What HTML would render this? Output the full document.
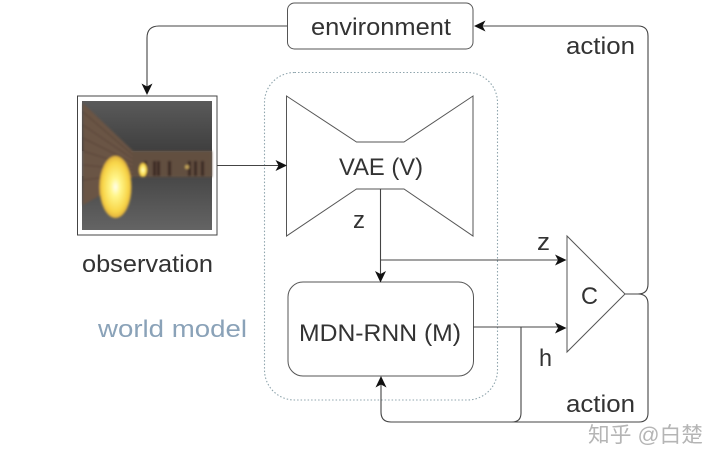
<!DOCTYPE html>
<html>
<head>
<meta charset="utf-8">
<style>
html,body{margin:0;padding:0;background:#fff}
svg{display:block}
text{font-family:"Liberation Sans","Noto Sans CJK SC",sans-serif;fill:#333}
</style>
</head>
<body>
<svg width="720" height="463" viewBox="0 0 720 463" xmlns="http://www.w3.org/2000/svg">
<defs>
<linearGradient id="ceil" x1="0" y1="0" x2="0" y2="1"><stop offset="0" stop-color="#5a5a5a"/><stop offset="1" stop-color="#3f3f3f"/></linearGradient>
<linearGradient id="floor" x1="0" y1="0" x2="0" y2="1"><stop offset="0" stop-color="#474747"/><stop offset="1" stop-color="#646464"/></linearGradient>
<radialGradient id="fire"><stop offset="0" stop-color="#fffef0"/><stop offset=".3" stop-color="#fff68a"/><stop offset=".8" stop-color="#f8d548"/><stop offset="1" stop-color="#e0b03c"/></radialGradient>
<filter id="b"><feGaussianBlur stdDeviation="1"/></filter>
</defs>

<!-- observation -->
<rect x="77.500" y="96" width="139.500" height="139" fill="#fff" stroke="#444" stroke-width="1"/>
<g>
<rect x="82" y="101" width="130" height="129" fill="#5e5e5e"/>
<rect x="82" y="101" width="130" height="50" fill="url(#ceil)"/>
<rect x="82" y="176" width="130" height="54" fill="url(#floor)"/>
<g filter="url(#b)">
<polygon points="132,151 212,151 212,177 132,177" fill="#62503f"/>
<polygon points="83,103 133,151 133,177 83,205" fill="#6a5444"/>
<g stroke="#58453a" stroke-width="1">
<line x1="83" y1="112" x2="133" y2="155"/><line x1="83" y1="125" x2="133" y2="159"/><line x1="83" y1="138" x2="133" y2="163"/><line x1="83" y1="151" x2="133" y2="167"/><line x1="83" y1="165" x2="133" y2="170"/><line x1="83" y1="180" x2="133" y2="174"/>
</g>
<g fill="#3a2620">
<rect x="144" y="161" width="3" height="15"/><rect x="153" y="161" width="3" height="15"/><rect x="157" y="161" width="3" height="15"/><rect x="168" y="161" width="3" height="15"/><rect x="188" y="161" width="3" height="15"/><rect x="194" y="161" width="3" height="15"/><rect x="201" y="161" width="3" height="15"/>
</g>
<ellipse cx="143" cy="170" rx="4" ry="7" fill="url(#fire)"/>
<circle cx="187" cy="167" r="2" fill="#c4a45a"/>
<ellipse cx="115.500" cy="187" rx="16" ry="31" fill="url(#fire)"/>
</g>
</g>

<!-- world model -->
<rect x="264.500" y="72.500" width="233" height="327.500" rx="30" fill="none" stroke="#8fa5ad" stroke-width="1.100" stroke-dasharray="1.500 2"/>

<!-- shapes -->
<g fill="#fff" stroke="#555" stroke-width="1">
<rect x="287.500" y="3" width="185.500" height="46" rx="7"/>
<polygon points="286.500,96 356.500,142 404,142 473,96 473,236 404,189 356.500,189 286.500,236"/>
<rect x="288" y="282" width="185.500" height="94" rx="15"/>
<polygon points="567,236 567,352 625,294"/>
</g>

<!-- connectors -->
<g fill="none" stroke="#444" stroke-width="1.100">
<path d="M287,26H159Q147,26 147,38V87"/>
<path d="M217,165.500H281"/>
<path d="M380.500,189V276"/>
<path d="M380.500,260H560"/>
<path d="M473,327H560"/>
<path d="M625,294H638Q648,294 648,284V36Q648,26 638,26H480"/>
<path d="M625,294H638Q648,294 648,304V413Q648,422 639,422H391Q381,422 381,412V382"/>
<path d="M521,327V413Q521,422 512,422"/>
</g>

<!-- arrowheads -->
<g fill="#111">
<polygon points="147,95 141.500,83.500 147,86.500 152.500,83.500"/>
<polygon points="287,165.500 275.500,160 278.500,165.500 275.500,171"/>
<polygon points="380.500,282.500 375,271 380.500,274 386,271"/>
<polygon points="566.500,260 555,254.500 558,260 555,265.500"/>
<polygon points="566.500,328 555,322.500 558,328 555,333.500"/>
<polygon points="474,26 485.500,20.500 482.500,26 485.500,31.500"/>
<polygon points="381,376 375.500,387.500 381,384.500 386.500,387.500"/>
</g>

<!-- labels -->
<g font-size="24">
<text x="311" y="35" textLength="140" lengthAdjust="spacingAndGlyphs">environment</text>
<text x="339" y="175" textLength="84" lengthAdjust="spacingAndGlyphs">VAE (V)</text>
<text x="299" y="341" textLength="162" lengthAdjust="spacingAndGlyphs">MDN-RNN (M)</text>
<text x="82" y="272" textLength="131" lengthAdjust="spacingAndGlyphs">observation</text>
<text x="98" y="337" textLength="149" lengthAdjust="spacingAndGlyphs" style="fill:#8aa2b8">world model</text>
<text x="353" y="228" textLength="12" lengthAdjust="spacingAndGlyphs">z</text>
<text x="537" y="250" textLength="13" lengthAdjust="spacingAndGlyphs">z</text>
<text x="539" y="366" textLength="13" lengthAdjust="spacingAndGlyphs">h</text>
<text x="581" y="304" textLength="17" lengthAdjust="spacingAndGlyphs">C</text>
<text x="566" y="54" textLength="69" lengthAdjust="spacingAndGlyphs">action</text>
<text x="566" y="412" textLength="69" lengthAdjust="spacingAndGlyphs">action</text>
</g>
<text x="588" y="442" font-size="21" textLength="115" lengthAdjust="spacingAndGlyphs" style="fill:#b5b5b5">知乎 @白楚</text>
</svg>
</body>
</html>
